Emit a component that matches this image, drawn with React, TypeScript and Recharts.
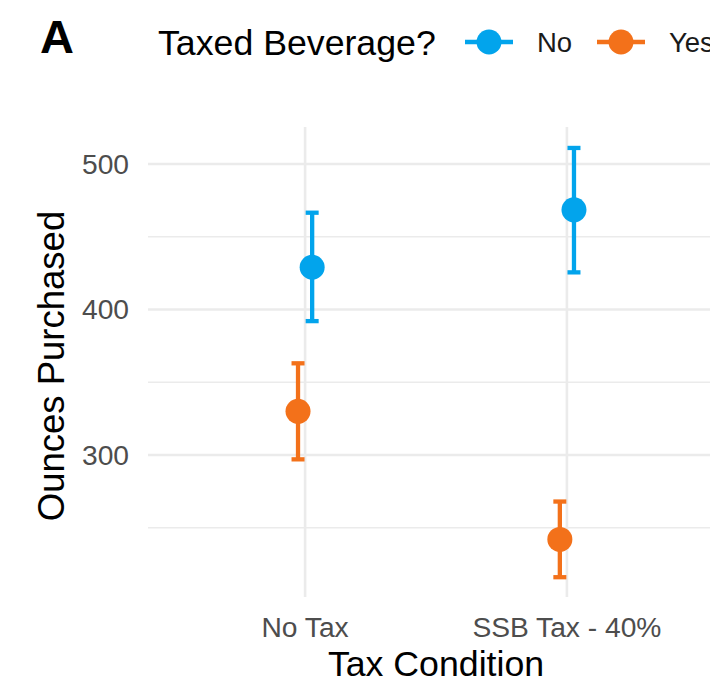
import {
  ScatterChart,
  Scatter,
  XAxis,
  YAxis,
  CartesianGrid,
  ErrorBar,
  Legend,
} from "recharts";

const categories = ["No Tax", "SSB Tax - 40%"];
const seriesNames = ["No", "Yes"];

// mean ounces purchased with lower / upper bounds of the interval
const noMeans = [429, 468.5];
const noLower = [392, 425.5];
const noUpper = [466.5, 511];

const yesMeans = [330, 242];
const yesLower = [297, 216];
const yesUpper = [363, 268];

const yTicks = [300, 400, 500];
const yMinor = [250, 350, 450];

const BLUE = "#02a4ec";
const ORANGE = "#f3711a";
const DODGE = 0.027;
const FONT = "'Liberation Sans', Arial, Helvetica, sans-serif";

const buildSeries = (means: number[], lower: number[], upper: number[], shift: number) =>
  categories.map((name, i) => ({
    name,
    x: i + shift,
    y: means[i],
    err: [means[i] - lower[i], upper[i] - means[i]],
  }));

const noData = buildSeries(noMeans, noLower, noUpper, DODGE);
const yesData = buildSeries(yesMeans, yesLower, yesUpper, -DODGE);

const dot = (color: string) => (props: any) =>
  <circle cx={props.cx} cy={props.cy} r={12.5} fill={color} />;

function LegendBox({ payload }: any) {
  const items = payload || [];
  let x = 465;
  return (
    <svg width={740} height={90} style={{ display: "block" }}>
      <text x={158} y={55} fontSize={35.7} fill="#000" fontFamily={FONT}>
        Taxed Beverage?
      </text>
      {items.map((item: any) => {
        const start = x;
        const labelW = String(item.value).length * 17.5;
        x = start + 48 + 24 + labelW + 25;
        return (
          <g key={item.value}>
            <line x1={start} x2={start + 48} y1={42} y2={42} stroke={item.color} strokeWidth={4.5} />
            <circle cx={start + 24} cy={42} r={12.5} fill={item.color} />
            <text x={start + 72} y={52} fontSize={27.5} fill="#1a1a1a" fontFamily={FONT}>
              {item.value}
            </text>
          </g>
        );
      })}
    </svg>
  );
}

export default function App() {
  return (
    <div
      style={{
        position: "absolute",
        left: 0,
        top: 0,
        width: 710,
        height: 682,
        overflow: "hidden",
        background: "#fff",
        fontFamily: FONT,
      }}
    >
      <div
        style={{
          position: "absolute",
          left: 40,
          top: 10,
          fontSize: 47,
          fontWeight: "bold",
          lineHeight: "54px",
          color: "#000",
          zIndex: 2,
        }}
      >
        A
      </div>
      <ScatterChart width={740} height={682} margin={{ top: 127, right: 16, bottom: 0, left: 0 }}>
        <CartesianGrid horizontalValues={yMinor} vertical={false} stroke="#ebebeb" strokeWidth={1.4} />
        <CartesianGrid horizontalValues={yTicks} verticalValues={[0, 1]} stroke="#ebebeb" strokeWidth={2.6} />
        <XAxis
          type="number"
          dataKey="x"
          domain={[-0.6, 1.6]}
          ticks={[0, 1]}
          allowDataOverflow
          height={85}
          axisLine={false}
          tickLine={false}
          tickSize={0}
          tickMargin={0}
          tick={(p: any) => (
            <text x={p.x} y={p.y + 40} textAnchor="middle" fontSize={28.2} fill="#4d4d4d" fontFamily={FONT}>
              {categories[p.payload.value]}
            </text>
          )}
          label={{
            content: () => (
              <text x={436} y={676} textAnchor="middle" fontSize={35.7} fill="#000" fontFamily={FONT}>
                Tax Condition
              </text>
            ),
          }}
        />
        <YAxis
          type="number"
          dataKey="y"
          domain={[202.4, 525.4]}
          ticks={yTicks}
          allowDataOverflow
          width={148}
          axisLine={false}
          tickLine={false}
          tickSize={0}
          tickMargin={19}
          tick={{ fontSize: 28.2, fill: "#4d4d4d", fontFamily: FONT }}
          label={{
            content: () => (
              <text
                x={64}
                y={366}
                transform="rotate(-90 64 366)"
                textAnchor="middle"
                fontSize={36.5}
                fill="#000"
                fontFamily={FONT}
              >
                Ounces Purchased
              </text>
            ),
          }}
        />
        <Legend
          layout="horizontal"
          verticalAlign="middle"
          align="center"
          wrapperStyle={{ top: 0, left: 0, width: 740, height: 90 }}
          content={(props: any) => <LegendBox payload={props.payload} />}
        />
        <Scatter name={seriesNames[0]} data={noData} fill={BLUE} shape={dot(BLUE)} isAnimationActive={false}>
          <ErrorBar dataKey="err" direction="y" width={6.5} strokeWidth={4.3} stroke={BLUE} isAnimationActive={false} />
        </Scatter>
        <Scatter name={seriesNames[1]} data={yesData} fill={ORANGE} shape={dot(ORANGE)} isAnimationActive={false}>
          <ErrorBar dataKey="err" direction="y" width={6.5} strokeWidth={4.3} stroke={ORANGE} isAnimationActive={false} />
        </Scatter>
      </ScatterChart>
    </div>
  );
}
